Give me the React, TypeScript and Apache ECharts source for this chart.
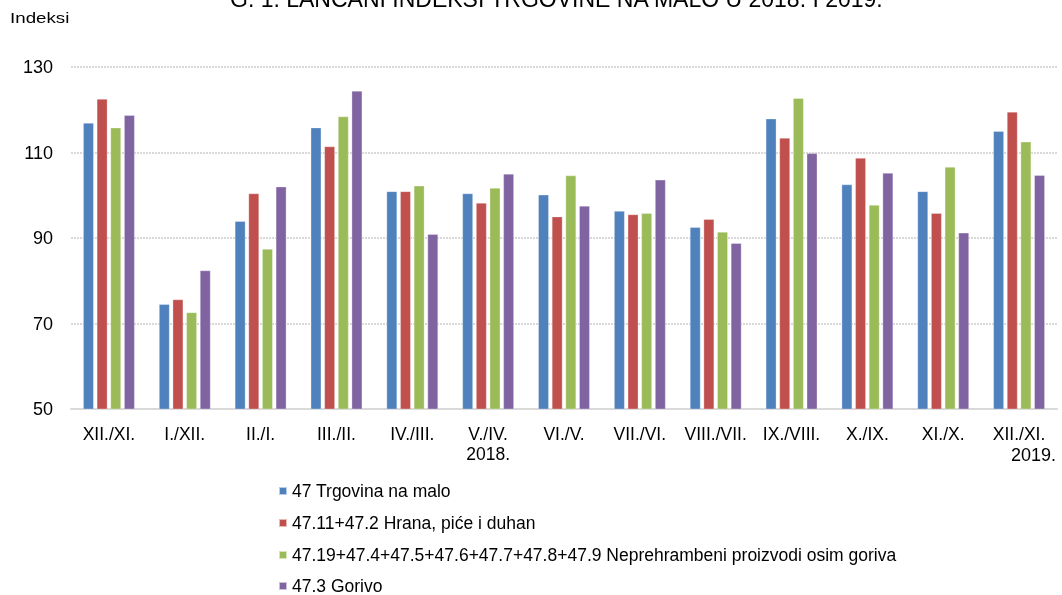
import React, { useEffect, useRef } from "react";
import * as echarts from "echarts";

const categories = ["XII./XI.", "I./XII.", "II./I.", "III./II.", "IV./III.", "V./IV.\n2018.", "VI./V.", "VII./VI.", "VIII./VII.", "IX./VIII.", "X./IX.", "XI./X.", "XII./XI."];
const seriesNames = [
  "47 Trgovina na malo",
  "47.11+47.2 Hrana, piće i duhan",
  "47.19+47.4+47.5+47.6+47.7+47.8+47.9 Neprehrambeni proizvodi osim goriva",
  "47.3 Gorivo",
];
const trgovina = [116.9, 74.5, 93.9, 115.8, 100.9, 100.4, 100.1, 96.3, 92.5, 117.9, 102.5, 100.9, 115.0];
const hrana = [122.5, 75.6, 100.4, 111.4, 100.9, 98.2, 95.0, 95.5, 94.4, 113.4, 108.7, 95.8, 119.5];
const neprehrambeni = [115.8, 72.6, 87.4, 118.4, 102.2, 101.7, 104.6, 95.8, 91.4, 122.7, 97.7, 106.6, 112.5];
const gorivo = [118.7, 82.4, 102.0, 124.4, 90.9, 105.0, 97.5, 103.6, 88.8, 109.8, 105.2, 91.2, 104.7];
const colors = ["#4F81BD", "#C0504D", "#9BBB59", "#8064A2"];
const FONT = "'Liberation Sans', Arial, sans-serif";
const legendTops = [482, 514, 546, 577];

export default function App() {
  const ref = useRef<HTMLDivElement>(null);
  useEffect(() => {
    const chart = echarts.init(ref.current!, null, { renderer: "svg" });
    const data = [trgovina, hrana, neprehrambeni, gorivo];
    chart.setOption({
      animation: false,
      textStyle: { fontFamily: FONT },
      grid: { left: 71, right: 5, top: 67, bottom: 186 },
      graphic: [
        { type: "text", left: 230, top: -13, style: { text: "G. 1. LANČANI INDEKSI TRGOVINE NA MALO U 2018. I 2019.", font: `23px ${FONT}`, fill: "#000" } },
        { type: "text", left: 10, top: 11, scaleX: 1.25, style: { text: "Indeksi", font: `15px ${FONT}`, fill: "#000" } },
        { type: "text", left: 1011, top: 446, style: { text: "2019.", font: `18px ${FONT}`, fill: "#000" } },
      ],
      legend: seriesNames.map((name, i) => ({
        orient: "vertical",
        left: 273,
        top: legendTops[i],
        itemWidth: 8,
        itemHeight: 8,
        itemGap: 0,
        padding: [0, 5],
        icon: "rect",
        textStyle: { fontSize: 17.5, color: "#000", fontFamily: FONT, lineHeight: 18 },
        data: [name],
      })),
      xAxis: {
        type: "category",
        data: categories,
        axisLine: { lineStyle: { color: "#D9D9D9", width: 2 } },
        axisTick: { show: false },
        axisLabel: { color: "#000", fontSize: 17.5, margin: 15, lineHeight: 20, interval: 0 },
      },
      yAxis: {
        type: "value",
        min: 50,
        max: 130,
        interval: 20,
        axisLine: { show: false },
        axisTick: { show: false },
        axisLabel: { color: "#000", fontSize: 18, margin: 18 },
        splitLine: { lineStyle: { color: "#D9D9D9", type: [2, 1], width: 2 } },
      },
      series: seriesNames.map((name, i) => ({
        name,
        type: "bar",
        data: data[i],
        barWidth: 10.5,
        barGap: "30%",
        itemStyle: { color: colors[i], borderColor: "rgba(255,255,255,0.6)", borderWidth: 0.5 },
      })),
    });
    return () => chart.dispose();
  }, []);
  return <div ref={ref} style={{ position: "fixed", left: 0, top: 0, width: 1062, height: 595 }} />;
}
